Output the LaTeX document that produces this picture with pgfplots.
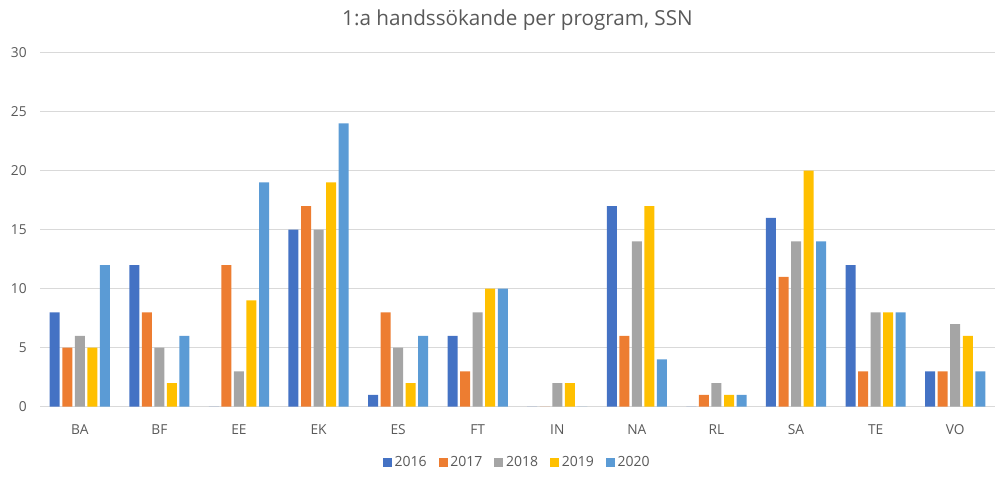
\documentclass[border=0pt]{standalone}
\usepackage{pgfplots}
\pgfplotsset{compat=1.18}
\usepackage{fontspec}
\setmainfont{Open Sans}
\definecolor{c1}{HTML}{4472C4}
\definecolor{c2}{HTML}{ED7D31}
\definecolor{c3}{HTML}{A5A5A5}
\definecolor{c4}{HTML}{FFC000}
\definecolor{c5}{HTML}{5B9BD5}
\definecolor{txt}{HTML}{595959}
\definecolor{grd}{HTML}{D9D9D9}
\begin{document}
\begin{tikzpicture}
\path[use as bounding box] (-30pt,-52pt) rectangle (719.25pt,305pt);
\begin{axis}[
  scale only axis, width=716.25pt, height=265.5pt,
  at={(0,0)}, anchor=south west,
  ybar=1.9pt, bar width=7.5pt,
  xmin=-0.5, xmax=11.5, ymin=0, ymax=30,
  xtick={0,...,11},
  xticklabels={BA,BF,EE,EK,ES,FT,IN,NA,RL,SA,TE,VO},
  ytick={0,5,...,30},
  ymajorgrids, grid style={grd, line width=0.75pt},
  axis x line*=bottom, axis y line*=left,
  x axis line style={grd, line width=0.75pt, -},
  y axis line style={draw=none},
  major tick length=0pt,
  tick label style={font=\fontsize{10.3}{12}\selectfont, text=txt},
  /pgf/number format/assume math mode=true,
  yticklabel style={xshift=-6.5pt},
  xticklabel style={yshift=-10pt},
  title={1:a handssökande per program, SSN},
  title style={font=\fontsize{15.5}{18}\selectfont, text=txt, yshift=7pt},
  legend style={at={(0.5,-0.125)}, anchor=north, draw=none, legend columns=-1,
    font=\fontsize{10.5}{12}\selectfont, text=txt,
    /tikz/every even column/.append style={column sep=7pt}},
  legend image code/.code={\fill[#1] (0pt,-3.4pt) rectangle (6.8pt,3.4pt);},
  every axis plot/.append style={draw=none},
]
\addplot[fill=c1] coordinates {(0,8)(1,12)(2,0)(3,15)(4,1)(5,6)(6,0)(7,17)(8,0)(9,16)(10,12)(11,3)};
\addplot[fill=c2] coordinates {(0,5)(1,8)(2,12)(3,17)(4,8)(5,3)(6,0)(7,6)(8,1)(9,11)(10,3)(11,3)};
\addplot[fill=c3] coordinates {(0,6)(1,5)(2,3)(3,15)(4,5)(5,8)(6,2)(7,14)(8,2)(9,14)(10,8)(11,7)};
\addplot[fill=c4] coordinates {(0,5)(1,2)(2,9)(3,19)(4,2)(5,10)(6,2)(7,17)(8,1)(9,20)(10,8)(11,6)};
\addplot[fill=c5] coordinates {(0,12)(1,6)(2,19)(3,24)(4,6)(5,10)(6,0)(7,4)(8,1)(9,14)(10,8)(11,3)};
\legend{2016,2017,2018,2019,2020}
\end{axis}
\end{tikzpicture}
\end{document}
